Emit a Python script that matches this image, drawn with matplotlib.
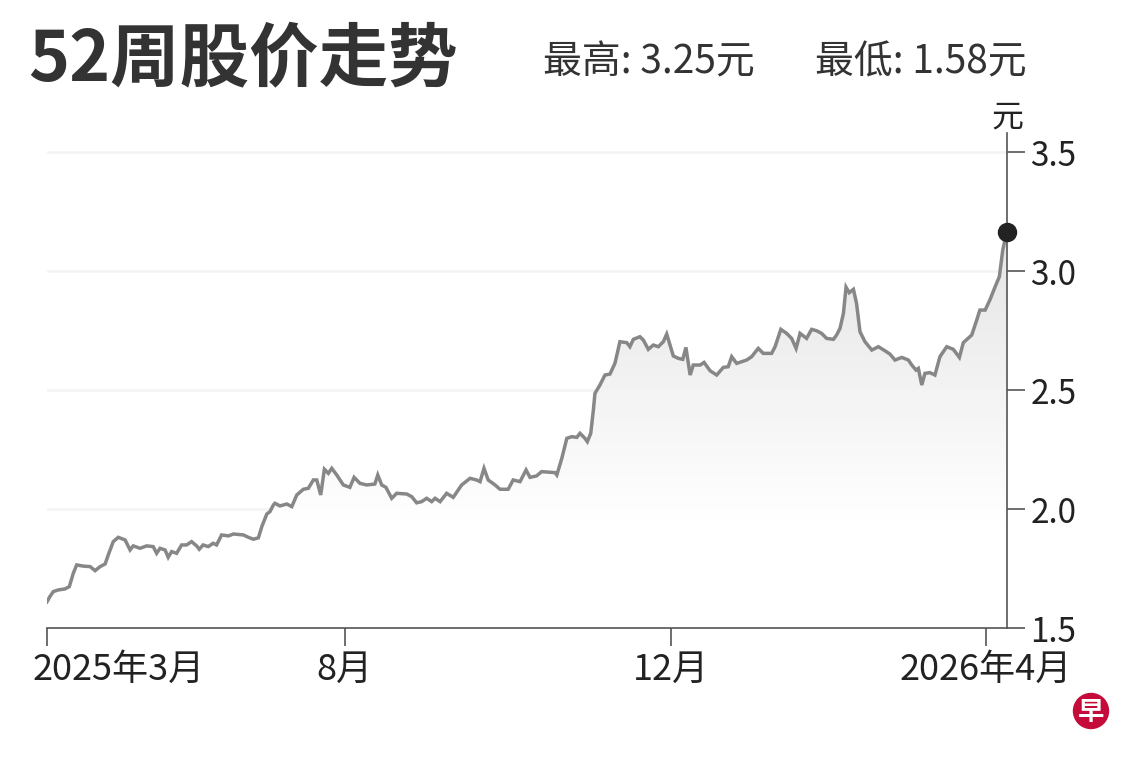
import matplotlib.pyplot as plt
import matplotlib.transforms as mtransforms
import numpy as np
from matplotlib.colors import LinearSegmentedColormap, Normalize
from matplotlib.patches import Ellipse

plt.rcParams['font.family'] = ['Noto Sans CJK SC', 'DejaVu Sans']

# 股价数据（按天数，0 = 起始日）
days = [0, 1.1, 2.4, 4.3, 6.8, 8.5, 10.0, 11.3, 13.8, 16.4, 18.3, 20.2, 22.1, 23.3,
        25.2, 27.1, 29.7, 31.6, 32.8, 35.4, 37.9, 40.4, 41.7, 43.0, 44.9, 46.1, 47.4,
        49.3, 51.2, 53.1, 55.0, 56.9, 57.9, 59.4, 61.3, 63.2, 64.5, 66.4, 69.0, 70.9,
        74.7, 76.6, 78.5, 80.4, 81.7, 83.6, 84.8, 86.1, 86.7, 88.6, 91.2, 93.1, 95.0,
        97.5, 99.4, 101.3, 102.6, 104.1, 105.5, 107.0, 108.3, 110.2, 112.7, 115.2,
        116.8, 119.0, 121.6, 124.7, 125.8, 127.3, 128.9, 131.1, 133.0, 136.8, 138.7,
        140.6, 142.5, 144.4, 146.3, 147.6, 149.5, 152.0, 154.5, 157.7, 160.9, 163.4,
        164.7, 166.2, 167.8, 170.4, 172.3, 175.4, 177.3, 179.9, 182.2, 183.7, 186.2,
        188.1, 193.2, 193.9, 195.8, 197.7, 199.6, 201.5, 202.7, 204.6, 205.5, 206.8,
        207.8, 208.4, 210.3, 212.2, 214.1, 216.0, 217.9, 220.5, 221.7, 223.0, 225.5,
        226.8, 228.7, 230.6, 232.5, 234.4, 235.7, 238.2, 240.1, 241.8, 243.0, 244.6,
        245.8, 248.4, 249.9, 252.2, 254.7, 257.2, 259.1, 260.4, 262.3, 266.1, 268.0,
        270.5, 272.4, 275.6, 276.9, 279.1, 281.3, 283.2, 284.9, 286.4, 288.9, 290.8,
        292.7, 294.6, 296.5, 299.1, 300.3, 301.6, 302.9, 303.9, 305.1, 306.7, 307.9,
        309.2, 311.1, 313.7, 316.2, 318.7, 320.6, 322.5, 325.1, 327.6, 328.9, 330.5,
        331.4, 332.7, 333.9, 335.8, 337.7, 339.6, 342.2, 344.7, 347.0, 348.5, 351.7,
        353.6, 354.8, 356.8, 358.7, 360.6, 362.2, 363.5, 365.0]
prices = [1.610, 1.632, 1.653, 1.660, 1.664, 1.674, 1.730, 1.765, 1.760, 1.758, 1.741,
          1.758, 1.769, 1.807, 1.863, 1.881, 1.870, 1.828, 1.845, 1.835, 1.845, 1.842,
          1.814, 1.835, 1.828, 1.797, 1.821, 1.814, 1.849, 1.849, 1.863, 1.845, 1.831,
          1.849, 1.842, 1.856, 1.849, 1.891, 1.887, 1.895, 1.891, 1.881, 1.873, 1.879,
          1.926, 1.979, 1.989, 2.017, 2.024, 2.013, 2.021, 2.010, 2.059, 2.083, 2.087,
          2.122, 2.122, 2.059, 2.167, 2.150, 2.171, 2.143, 2.101, 2.091, 2.133, 2.108,
          2.101, 2.105, 2.143, 2.101, 2.091, 2.045, 2.066, 2.063, 2.052, 2.026, 2.031,
          2.045, 2.031, 2.045, 2.031, 2.066, 2.049, 2.101, 2.129, 2.122, 2.115, 2.171,
          2.122, 2.101, 2.083, 2.083, 2.122, 2.115, 2.164, 2.133, 2.139, 2.157, 2.153,
          2.143, 2.213, 2.297, 2.304, 2.301, 2.318, 2.297, 2.283, 2.318, 2.416, 2.486,
          2.521, 2.563, 2.567, 2.612, 2.703, 2.699, 2.682, 2.713, 2.724, 2.710, 2.671,
          2.689, 2.682, 2.703, 2.735, 2.643, 2.633, 2.629, 2.679, 2.563, 2.605, 2.605,
          2.616, 2.581, 2.563, 2.595, 2.598, 2.640, 2.612, 2.626, 2.640, 2.675, 2.654,
          2.654, 2.682, 2.755, 2.738, 2.717, 2.675, 2.738, 2.717, 2.755, 2.749, 2.738,
          2.717, 2.713, 2.731, 2.759, 2.822, 2.932, 2.909, 2.923, 2.864, 2.745, 2.703,
          2.668, 2.682, 2.665, 2.651, 2.626, 2.637, 2.626, 2.605, 2.584, 2.591, 2.521,
          2.570, 2.573, 2.563, 2.640, 2.682, 2.671, 2.637, 2.699, 2.731, 2.794, 2.836,
          2.836, 2.881, 2.934, 2.976, 3.088, 3.165]

tick_days = [0, 113.3, 237.3, 357.1]
tick_labels = ['2025年3月', '8月', '12月', '2026年4月']
y_ticks = [1.5, 2.0, 2.5, 3.0, 3.5]
y_min, y_max = 1.5, 3.58

fig = plt.figure(figsize=(11.4, 7.6), dpi=100)
ax = fig.add_axes([47 / 1140, 1 - 628 / 760, (1006.7 - 47) / 1140, (628 - 133) / 760])

# 渐变填充（线下方）
fade = LinearSegmentedColormap.from_list('fade', ['#ffffff', '#e2e2e2'])
grad = np.linspace(y_min, y_max, 256).reshape(-1, 1)
im = ax.imshow(grad, extent=[days[0], days[-1], y_min, y_max], origin='lower',
               aspect='auto', cmap=fade, norm=Normalize(1.95, 3.3), zorder=1)
poly = ax.fill_between(days, prices, y_min, color='none', lw=0)
im.set_clip_path(poly.get_paths()[0], transform=ax.transData)

ax.plot(days, prices, color='#878787', lw=2.5, zorder=3, solid_joinstyle='miter')
ax.plot(days[-1], prices[-1], 'o', ms=13, color='#222222', zorder=4, clip_on=False)

ax.set_xlim(days[0], days[-1])
ax.set_ylim(y_min, y_max)
ax.set_xticks(tick_days)
ax.set_xticklabels(tick_labels)
ax.set_yticks(y_ticks)
ax.set_yticklabels([f'{v:.1f}' for v in y_ticks])
ax.yaxis.tick_right()

ax.yaxis.grid(True, color='#f4f4f4', lw=2)
ax.set_axisbelow(True)
for s in ['top', 'left']:
    ax.spines[s].set_visible(False)
for s in ['right', 'bottom']:
    ax.spines[s].set_color('#555555')
    ax.spines[s].set_linewidth(1.2)
ax.tick_params(axis='both', length=13, width=1.2, color='#555555',
               labelcolor='#222222', pad=4)
ax.tick_params(axis='y', labelsize=24)
ax.tick_params(axis='x', labelsize=26)

# 第一个日期标签稍向右偏
first = ax.get_xticklabels()[0]
first.set_horizontalalignment('left')
first.set_transform(first.get_transform() +
                    mtransforms.ScaledTranslation(-14 / 100, 0, fig.dpi_scale_trans))

fig.text(28 / 1140, 1 - 60 / 760, '52周股价走势', fontsize=50, fontweight='bold',
         color='#333333', va='center', ha='left')
fig.text(543 / 1140, 1 - 62 / 760, '最高: 3.25元', fontsize=28, color='#333333',
         va='center', ha='left')
fig.text(815 / 1140, 1 - 62 / 760, '最低: 1.58元', fontsize=28, color='#333333',
         va='center', ha='left')
fig.text(1007 / 1140, 1 - 118 / 760, '元', fontsize=23, color='#222222',
         va='center', ha='center')

# 早报标志
fig.add_artist(Ellipse((1091 / 1140, 1 - 711 / 760), 35 / 1140, 35 / 760,
                       transform=fig.transFigure, color='#c40b3a'))
fig.text(1091 / 1140, 1 - 712 / 760, '早', fontsize=19, fontweight='bold',
         color='white', va='center', ha='center')

fig.savefig('out.png', dpi=100)
